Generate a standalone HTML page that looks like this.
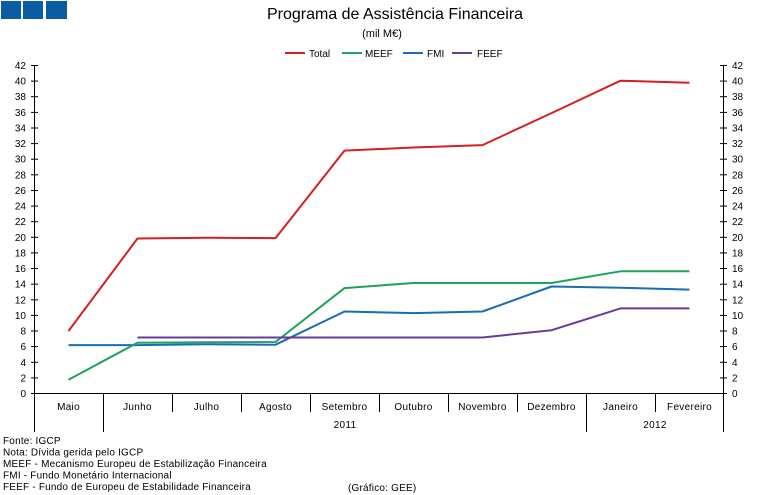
<!DOCTYPE html>
<html><head><meta charset="utf-8"><style>
html,body{margin:0;padding:0;background:#fff;}
svg{display:block;font-family:"Liberation Sans",Arial,sans-serif;}
</style></head><body>
<svg width="759" height="495" viewBox="0 0 759 495" xmlns="http://www.w3.org/2000/svg">
<rect width="759" height="495" fill="#fff"/>
<!-- logo -->
<rect x="1" y="1" width="20" height="18" fill="#0b5ca5"/>
<rect x="23" y="1" width="20" height="18" fill="#0b5ca5"/>
<rect x="46" y="1" width="21" height="18" fill="#0b5ca5"/>
<!-- title -->
<text x="395" y="19" font-size="16" text-anchor="middle" fill="#000">Programa de Assistência Financeira</text>
<text x="382" y="37" font-size="11" text-anchor="middle" fill="#000">(mil M€)</text>
<!-- legend -->
<g font-size="10" fill="#000">
<line x1="285" y1="53" x2="305" y2="53" stroke="#d42020" stroke-width="2"/><text x="309" y="57">Total</text>
<line x1="342" y1="53" x2="362" y2="53" stroke="#1fa160" stroke-width="2"/><text x="365" y="57">MEEF</text>
<line x1="403" y1="53" x2="423" y2="53" stroke="#1a6db5" stroke-width="2"/><text x="427" y="57">FMI</text>
<line x1="452" y1="53" x2="472" y2="53" stroke="#6b3a96" stroke-width="2"/><text x="477" y="57">FEEF</text>
</g>
<!-- axes -->
<g stroke="#000" stroke-width="1" fill="none">
<line x1="34.5" y1="65" x2="34.5" y2="432"/>
<line x1="723.5" y1="65" x2="723.5" y2="432"/>
<line x1="34" y1="393.5" x2="724" y2="393.5"/>
<line x1="103.5" y1="393" x2="103.5" y2="432"/>
<line x1="172.5" y1="393" x2="172.5" y2="412"/>
<line x1="241.5" y1="393" x2="241.5" y2="412"/>
<line x1="310.5" y1="393" x2="310.5" y2="412"/>
<line x1="379.5" y1="393" x2="379.5" y2="412"/>
<line x1="448.5" y1="393" x2="448.5" y2="412"/>
<line x1="517.5" y1="393" x2="517.5" y2="412"/>
<line x1="586.5" y1="393" x2="586.5" y2="432"/>
<line x1="655.5" y1="393" x2="655.5" y2="412"/>
</g>
<g id="ticks" stroke="#000" stroke-width="1">
<line x1="31" x2="38" y1="393.5" y2="393.5"/><line x1="720" x2="727" y1="393.5" y2="393.5"/>
<line x1="31" x2="38" y1="377.9" y2="377.9"/><line x1="720" x2="727" y1="377.9" y2="377.9"/>
<line x1="31" x2="38" y1="362.3" y2="362.3"/><line x1="720" x2="727" y1="362.3" y2="362.3"/>
<line x1="31" x2="38" y1="346.6" y2="346.6"/><line x1="720" x2="727" y1="346.6" y2="346.6"/>
<line x1="31" x2="38" y1="331.0" y2="331.0"/><line x1="720" x2="727" y1="331.0" y2="331.0"/>
<line x1="31" x2="38" y1="315.4" y2="315.4"/><line x1="720" x2="727" y1="315.4" y2="315.4"/>
<line x1="31" x2="38" y1="299.8" y2="299.8"/><line x1="720" x2="727" y1="299.8" y2="299.8"/>
<line x1="31" x2="38" y1="284.2" y2="284.2"/><line x1="720" x2="727" y1="284.2" y2="284.2"/>
<line x1="31" x2="38" y1="268.5" y2="268.5"/><line x1="720" x2="727" y1="268.5" y2="268.5"/>
<line x1="31" x2="38" y1="252.9" y2="252.9"/><line x1="720" x2="727" y1="252.9" y2="252.9"/>
<line x1="31" x2="38" y1="237.3" y2="237.3"/><line x1="720" x2="727" y1="237.3" y2="237.3"/>
<line x1="31" x2="38" y1="221.7" y2="221.7"/><line x1="720" x2="727" y1="221.7" y2="221.7"/>
<line x1="31" x2="38" y1="206.1" y2="206.1"/><line x1="720" x2="727" y1="206.1" y2="206.1"/>
<line x1="31" x2="38" y1="190.5" y2="190.5"/><line x1="720" x2="727" y1="190.5" y2="190.5"/>
<line x1="31" x2="38" y1="174.8" y2="174.8"/><line x1="720" x2="727" y1="174.8" y2="174.8"/>
<line x1="31" x2="38" y1="159.2" y2="159.2"/><line x1="720" x2="727" y1="159.2" y2="159.2"/>
<line x1="31" x2="38" y1="143.6" y2="143.6"/><line x1="720" x2="727" y1="143.6" y2="143.6"/>
<line x1="31" x2="38" y1="128.0" y2="128.0"/><line x1="720" x2="727" y1="128.0" y2="128.0"/>
<line x1="31" x2="38" y1="112.4" y2="112.4"/><line x1="720" x2="727" y1="112.4" y2="112.4"/>
<line x1="31" x2="38" y1="96.7" y2="96.7"/><line x1="720" x2="727" y1="96.7" y2="96.7"/>
<line x1="31" x2="38" y1="81.1" y2="81.1"/><line x1="720" x2="727" y1="81.1" y2="81.1"/>
<line x1="31" x2="38" y1="65.5" y2="65.5"/><line x1="720" x2="727" y1="65.5" y2="65.5"/>
</g>
<g font-size="10" fill="#000" text-anchor="end">
<text x="26" y="397">0</text><text x="26" y="381.4">2</text><text x="26" y="365.8">4</text><text x="26" y="350.1">6</text><text x="26" y="334.5">8</text><text x="26" y="318.9">10</text><text x="26" y="303.3">12</text><text x="26" y="287.7">14</text><text x="26" y="272">16</text><text x="26" y="256.4">18</text><text x="26" y="240.8">20</text><text x="26" y="225.2">22</text><text x="26" y="209.6">24</text><text x="26" y="194">26</text><text x="26" y="178.3">28</text><text x="26" y="162.7">30</text><text x="26" y="147.1">32</text><text x="26" y="131.5">34</text><text x="26" y="115.9">36</text><text x="26" y="100.2">38</text><text x="26" y="84.6">40</text><text x="26" y="69">42</text>
</g>
<g font-size="10" fill="#000" text-anchor="start">
<text x="732" y="397">0</text><text x="732" y="381.4">2</text><text x="732" y="365.8">4</text><text x="732" y="350.1">6</text><text x="732" y="334.5">8</text><text x="732" y="318.9">10</text><text x="732" y="303.3">12</text><text x="732" y="287.7">14</text><text x="732" y="272">16</text><text x="732" y="256.4">18</text><text x="732" y="240.8">20</text><text x="732" y="225.2">22</text><text x="732" y="209.6">24</text><text x="732" y="194">26</text><text x="732" y="178.3">28</text><text x="732" y="162.7">30</text><text x="732" y="147.1">32</text><text x="732" y="131.5">34</text><text x="732" y="115.9">36</text><text x="732" y="100.2">38</text><text x="732" y="84.6">40</text><text x="732" y="69">42</text>
</g>
<!-- category labels -->
<g font-size="10" fill="#000" text-anchor="middle" letter-spacing="0.3">
<text x="68.5" y="410">Maio</text>
<text x="137.5" y="410">Junho</text>
<text x="206.5" y="410">Julho</text>
<text x="275.5" y="410">Agosto</text>
<text x="344.5" y="410">Setembro</text>
<text x="413.5" y="410">Outubro</text>
<text x="482.5" y="410">Novembro</text>
<text x="551.5" y="410">Dezembro</text>
<text x="620.5" y="410">Janeiro</text>
<text x="689.5" y="410">Fevereiro</text>
<text x="345" y="428">2011</text>
<text x="655" y="428">2012</text>
</g>
<!-- series -->
<g fill="none" stroke-width="2" stroke-linejoin="round">
<polyline stroke="#1a6db5" points="68.5,345.1 137.5,345.1 206.5,344.3 275.5,344.7 344.5,311.5 413.5,313.1 482.5,311.5 551.5,286.5 620.5,287.7 689.5,289.6"/>
<polyline stroke="#1fa160" points="68.5,379.8 137.5,342.7 206.5,342.3 275.5,342.0 344.5,288.1 413.5,283.0 482.5,283.0 551.5,283.0 620.5,271.3 689.5,271.3"/>
<polyline stroke="#6b3a96" points="137.5,337.5 206.5,337.5 275.5,337.5 344.5,337.5 413.5,337.5 482.5,337.5 551.5,330.2 620.5,308.4 689.5,308.4"/>
<polyline stroke="#d42020" points="68.5,331.0 137.5,238.5 206.5,237.7 275.5,238.1 344.5,150.6 413.5,147.5 482.5,145.1 551.5,113.1 620.5,80.7 689.5,82.7"/>
</g>
<!-- notes -->
<g font-size="10" fill="#000" letter-spacing="0.2">
<text x="3" y="444">Fonte: IGCP</text>
<text x="3" y="455.5">Nota: Dívida gerida pelo IGCP</text>
<text x="3" y="467">MEEF - Mecanismo Europeu de Estabilização Financeira</text>
<text x="3" y="478.5">FMI - Fundo Monetário Internacional</text>
<text x="3" y="490">FEEF - Fundo de Europeu de Estabilidade Financeira</text>
<text x="348" y="491">(Gráfico: GEE)</text>
</g>
</svg>
</body></html>
